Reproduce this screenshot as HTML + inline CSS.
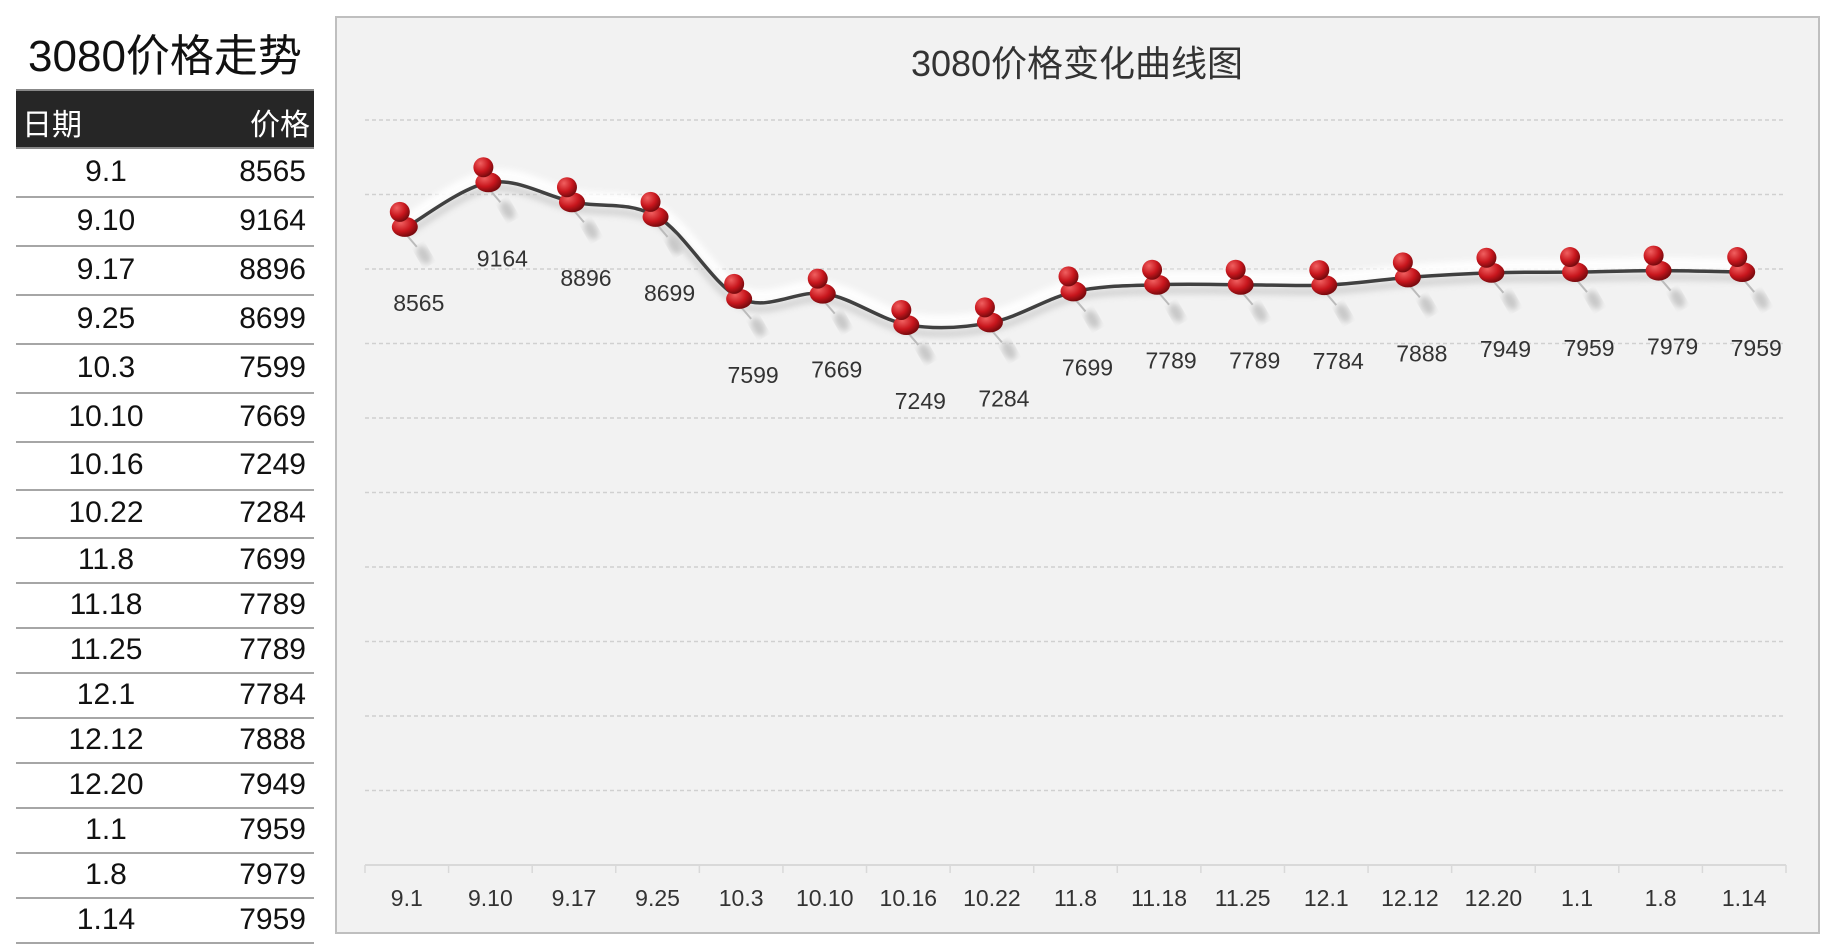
<!DOCTYPE html>
<html><head><meta charset="utf-8"><style>
body{margin:0;width:1833px;height:947px;background:#fff;font-family:"Liberation Sans","Noto Sans CJK SC",sans-serif;overflow:hidden;position:relative}
#title{position:absolute;left:0;width:330px;top:20px;text-align:center;font-size:44px;color:#111}
#tbl{position:absolute;left:16px;top:89px;width:298px}
.hdr{background:#262626;color:#fff;height:56px;font-size:30px;position:relative;border-top:2px solid #888;border-bottom:2px solid #888}
.row{position:relative;border-bottom:2px solid #a6a6a6;font-size:30px;color:#111}
.d{position:absolute;left:0;width:180px;text-align:center}
.p{position:absolute;right:8px}
#chart{position:absolute;left:335px;top:16px;width:1481px;height:914px;background:#f2f2f2;border:2px solid #bfbfbf}
</style></head><body>
<div id="title">3080价格走势</div>
<div id="tbl"></div>
<div id="chart">
<svg id="svg" width="1481" height="914"></svg>
</div>
<script>
const categories=["9.1","9.10","9.17","9.25","10.3","10.10","10.16","10.22","11.8","11.18","11.25","12.1","12.12","12.20","1.1","1.8","1.14"];
const prices=[8565,9164,8896,8699,7599,7669,7249,7284,7699,7789,7789,7784,7888,7949,7959,7979,7959];
const yTicks=[0,1000,2000,3000,4000,5000,6000,7000,8000,9000,10000];
// table
const tbl=document.getElementById('tbl');
const hdr=document.createElement('div');hdr.className='hdr';


hdr.innerHTML='<span style="position:absolute;left:6px;top:9px">日期</span><span style="position:absolute;right:4px;top:9px">价格</span>';
tbl.appendChild(hdr);
const rowH=[47,47,47,47,47,47,46,46,43,43,43,43,43,43,43,43,43];
categories.forEach((c,i)=>{const r=document.createElement('div');r.className='row';r.style.height=rowH[i]+'px';


r.innerHTML='<span class="d" style="top:'+(rowH[i]/2-18)+'px">'+c+'</span><span class="p" style="top:'+(rowH[i]/2-18)+'px">'+prices[i]+'</span>';tbl.appendChild(r);});
// chart (coords relative to chart box at 337,18)
const ns='http://www.w3.org/2000/svg',svg=document.getElementById('svg');
const L=28,R=1449,Y0=847,Y1=102,vmax=10000;
const bw=(R-L)/categories.length;
const xs=i=>L+bw*(i+0.5), ys=v=>Y0-(v/vmax)*(Y0-Y1);
function el(t,a,p){const e=document.createElementNS(ns,t);for(const k in a)e.setAttribute(k,a[k]);(p||svg).appendChild(e);return e;}
svg.innerHTML='<defs><radialGradient id="rg" cx="35%" cy="30%" r="70%"><stop offset="0" stop-color="#f06060"/><stop offset="0.6" stop-color="#c8161d"/><stop offset="1" stop-color="#7a0a0e"/></radialGradient><filter id="bl"><feGaussianBlur stdDeviation="3"/></filter></defs>';
const t=el('text',{x:740,y:58,'text-anchor':'middle','font-size':36,fill:'#333'});t.textContent='3080价格变化曲线图';


yTicks.forEach(v=>{if(v===0)return;const g=el('line',{x1:L,x2:R,y1:ys(v),y2:ys(v),stroke:'#d0d0d0','stroke-width':1.5,'stroke-dasharray':'4,3'});

});
const ax=el('line',{x1:L,x2:R,y1:Y0,y2:Y0,stroke:'#d9d9d9','stroke-width':2});


for(let i=0;i<=categories.length;i++){el('line',{x1:L+bw*i,x2:L+bw*i,y1:Y0,y2:Y0+8,stroke:'#d9d9d9','stroke-width':1.5});}
categories.forEach((c,i)=>{const tx=el('text',{x:xs(i),y:Y0+41,'text-anchor':'middle','font-size':23,fill:'#333'});tx.textContent=c;

});
// smooth path
const P=prices.map((v,i)=>[xs(i),ys(v)]);
let d='M'+P[0][0]+','+P[0][1];
for(let i=0;i<P.length-1;i++){const p0=P[i-1]||P[i],p1=P[i],p2=P[i+1],p3=P[i+2]||p2;const k=1/6;
d+=' C'+(p1[0]+(p2[0]-p0[0])*k)+','+(p1[1]+(p2[1]-p0[1])*k)+' '+(p2[0]-(p3[0]-p1[0])*k)+','+(p2[1]-(p3[1]-p1[1])*k)+' '+p2[0]+','+p2[1];}
el('path',{d:d,fill:'none',stroke:'#fff','stroke-width':14,filter:'url(#bl)',opacity:0.9,transform:'translate(0,-6)'});
el('path',{d:d,fill:'none',stroke:'#bbb','stroke-width':8,filter:'url(#bl)',opacity:0.5,transform:'translate(0,6)'});
const ln=el('path',{d:d,fill:'none',stroke:'#404040','stroke-width':3.5});


P.forEach((p,i)=>{const g=el('g',{});


el('ellipse',{cx:p[0]+17,cy:p[1]+28,rx:6,ry:10,fill:'#c8c8c8',transform:'rotate(-30 '+(p[0]+17)+' '+(p[1]+28)+')',filter:'url(#bl)'},g);
el('line',{x1:p[0]-2,y1:p[1]+6,x2:p[0]+10,y2:p[1]+20,stroke:'#bbb','stroke-width':2},g);
el('ellipse',{cx:p[0]-2,cy:p[1],rx:13,ry:10,fill:'url(#rg)'},g);
el('circle',{cx:p[0]-7,cy:p[1]-15,r:10,fill:'url(#rg)'},g);
const lb=el('text',{x:p[0]+12,y:p[1]+84,'text-anchor':'middle','font-size':23,fill:'#333'});lb.textContent=prices[i];

});
</script>
</body></html>
